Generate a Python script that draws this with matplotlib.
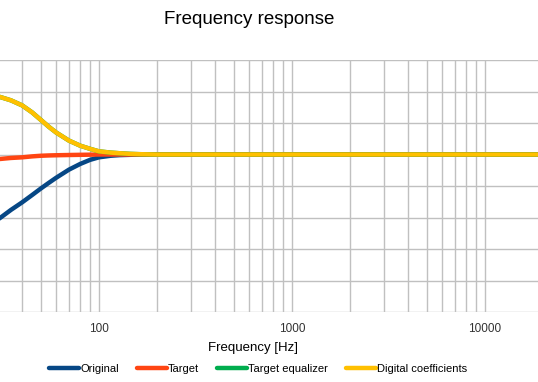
import matplotlib
matplotlib.use("Agg")
import matplotlib.pyplot as plt

plt.rcParams['font.family'] = ['Liberation Sans', 'DejaVu Sans']

# frequencies (Hz) and levels (dB)
freq = [20, 25, 31, 35, 40, 45, 50, 55, 60, 70, 80, 90, 100, 115, 128, 145, 163, 200, 300,
        500, 1000, 2000, 5000, 10000, 20000]
original = [-13.9, -11.9, -10.0, -8.8, -7.6, -6.45, -5.4, -4.5, -3.7, -2.4, -1.5, -0.85, -0.45,
            -0.2, -0.1, -0.05, 0, 0, 0, 0, 0, 0, 0, 0, 0]
target = [-1.1, -0.9, -0.7, -0.55, -0.45, -0.3, -0.2, -0.15, -0.12, -0.08, -0.05, -0.03, 0,
          0, 0, 0, 0, 0, 0, 0, 0, 0, 0, 0, 0]
target_eq = [10.4, 9.8, 9.1, 8.6, 7.8, 6.7, 5.5, 4.4, 3.5, 2.2, 1.4, 0.9, 0.5, 0.3, 0.2,
             0.1, 0.05, 0, 0, 0, 0, 0, 0, 0, 0]
digital = [10.4, 9.8, 9.1, 8.6, 7.8, 6.7, 5.5, 4.4, 3.5, 2.2, 1.4, 0.9, 0.5, 0.3, 0.2,
           0.1, 0.05, 0, 0, 0, 0, 0, 0, 0, 0]

W, H = 538, 382
fig = plt.figure(figsize=(W / 100, H / 100), dpi=100)
# plot area is wider than the picture (cropped on both sides)
ax = fig.add_axes([-36 / W, (H - 312) / H, 579 / W, 252 / H])

ax.plot(freq, original, color='#064785', lw=3.2, label='Original', solid_capstyle='round')
ax.plot(freq, target, color='#FF4512', lw=3.2, label='Target', solid_capstyle='round')
ax.plot(freq, target_eq, color='#00AD4E', lw=3.2, label='Target equalizer', solid_capstyle='round')
ax.plot(freq, digital, color='#FFC000', lw=3.2, label='Digital coefficients', solid_capstyle='round')

ax.set_xscale('log')
ax.set_xlim(20, 20000)
ax.set_ylim(-25, 15)
ax.set_yticks(range(-25, 16, 5))
ax.set_xticks([100, 1000, 10000])
ax.set_xticklabels(['100', '1000', '10000'], fontsize=8.5, color='#333333')
ax.set_yticklabels([])
ax.tick_params(which='both', length=0, pad=8)
ax.grid(True, which='both', color='#c0c0c0', lw=1)
ax.set_axisbelow(True)
for s in ax.spines.values():
    s.set_visible(False)

ax.set_xlabel('Frequency [Hz]', fontsize=9.5, labelpad=5)
fig.text(249 / W, 1 - 20 / H, 'Frequency response', ha='center', va='center', fontsize=13.5)

fig.legend(loc='center', bbox_to_anchor=(258 / W, 1 - 369 / H), ncol=4, frameon=False,
           fontsize=8, handlelength=2.7, handletextpad=0.1, columnspacing=1.6)

fig.savefig('out.png', dpi=100)
